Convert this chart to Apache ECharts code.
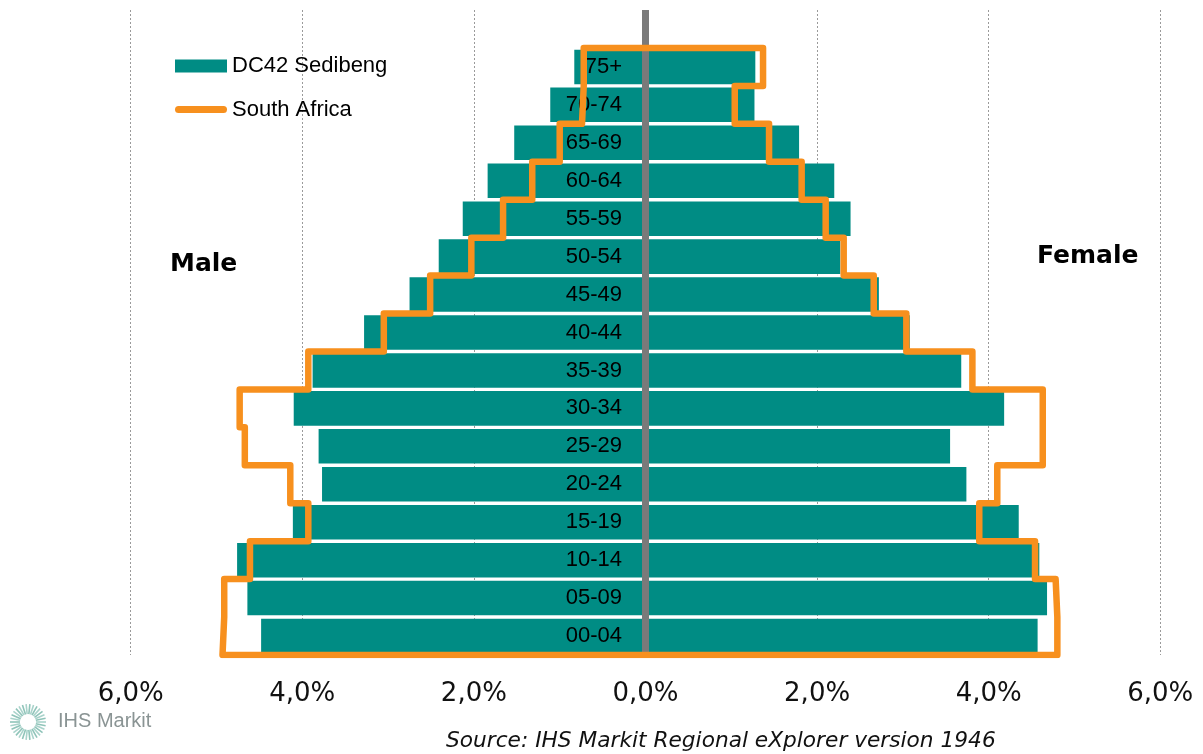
<!DOCTYPE html>
<html>
<head>
<meta charset="utf-8">
<script src="https://cdn.jsdelivr.net/npm/echarts@6/dist/echarts.min.js"></script>
<style>
html,body{margin:0;padding:0;background:#fff;}
#chart{width:1203px;height:754px;}
</style>
</head>
<body>
<div id="chart"></div>
<script>
// Age groups, bottom to top
const ageGroups = ['00-04','05-09','10-14','15-19','20-24','25-29','30-34','35-39','40-44','45-49','50-54','55-59','60-64','65-69','70-74','75+'];
// DC42 Sedibeng (% of population)
const sedibengMale   = [4.48,4.64,4.76,4.11,3.77,3.81,4.10,3.88,3.28,2.75,2.41,2.13,1.84,1.53,1.11,0.83];
const sedibengFemale = [4.57,4.68,4.59,4.35,3.74,3.55,4.18,3.68,3.08,2.72,2.27,2.39,2.20,1.79,1.27,1.28];
// South Africa (% of population)
const saMale   = [4.93,4.91,4.61,3.93,4.14,4.67,4.73,3.93,3.05,2.51,2.03,1.66,1.32,1.00,0.74,0.72];
const saFemale = [4.80,4.78,4.54,3.89,4.10,4.63,4.63,3.81,3.04,2.66,2.31,2.10,1.82,1.44,1.04,1.37];
// x-axis ticks
const xTicks = [-6,-4,-2,0,2,4,6];

const TEAL = '#008C84';
const ORANGE = '#F7901E';

// outline points (band index used as y on a hidden value axis)
const n = ageGroups.length;
const outline = [];
outline.push([-saMale[n-1], n]);
for (let i = n-1; i >= 0; i--) { outline.push([-saMale[i], i+1]); outline.push([-saMale[i], i]); }
for (let i = 0; i < n; i++) { outline.push([saFemale[i], i]); outline.push([saFemale[i], i+1]); }
outline.push([-saMale[n-1], n]);

// logo rays
const rays = [];
for (let k = 0; k < 30; k++) {
  const a = k / 30 * Math.PI * 2;
  rays.push({type:'line', shape:{x1:28+Math.cos(a)*8, y1:722+Math.sin(a)*8, x2:28+Math.cos(a)*18, y2:722+Math.sin(a)*18},
    style:{stroke: k%2 ? '#8fc4b9' : '#a9d3cb', lineWidth:1.6}});
}

const gridLeft = 130.7, gridRight = 42.7;
const plotW = 1203 - gridLeft - gridRight;
const zeroX = gridLeft + plotW / 2;

const chart = echarts.init(document.getElementById('chart'), null, {renderer:'canvas'});
chart.setOption({
  animation:false,
  backgroundColor:'#fff',
  grid:{left:gridLeft, right:gridRight, top:10, bottom:99, containLabel:false},
  legend:{
    orient:'vertical', left:170, top:50, itemGap:21.5, itemWidth:52, itemHeight:13,
    textStyle:{fontFamily:'Liberation Sans, Arial', fontSize:22, color:'#000'},
    data:[
      {name:'DC42 Sedibeng', icon:'rect'},
      {name:'South Africa', icon:'path://M3.5,0 L48.5,0 A3.5,3.5 0 0 1 48.5,7 L3.5,7 A3.5,3.5 0 0 1 3.5,0 Z',
       itemStyle:{color:ORANGE, borderWidth:0}, lineStyle:{width:0}}
    ]
  },
  xAxis:{
    type:'value', min:-6, max:6, interval:2,
    axisLine:{show:false, onZero:false}, axisTick:{show:false},
    axisLabel:{margin:26, fontFamily:'DejaVu Sans', fontSize:26, color:'#111',
      formatter:v => Math.abs(v).toFixed(1).replace('.',',') + '%'},
    splitLine:{show:true, lineStyle:{color:'#9a9a9a', type:[2,2], width:1}}
  },
  yAxis:[{
    type:'category', data:ageGroups.concat(['']), z:5,
    axisLine:{show:true, onZero:true, lineStyle:{color:'#7a7a7a', width:7, cap:'butt'}},
    axisTick:{show:false},
    axisLabel:{margin:-(zeroX - 23.5 - gridLeft), align:'right', fontFamily:'"Liberation Sans", Arial', fontSize:22, color:'#000'},
    splitLine:{show:false}
  },{
    type:'value', min:0, max:n+1, show:false, splitLine:{show:false}
  }],
  series:[{
    name:'DC42 Sedibeng', type:'bar', yAxisIndex:0, barGap:'-100%', barCategoryGap:'9%',
    itemStyle:{color:TEAL}, data:sedibengMale.map(v=>-v)
  },{
    name:'DC42 Sedibeng', type:'bar', yAxisIndex:0, barGap:'-100%', barCategoryGap:'9%',
    itemStyle:{color:TEAL}, data:sedibengFemale
  },{
    name:'South Africa', type:'line', yAxisIndex:1, z:10, symbol:'none',
    lineStyle:{color:ORANGE, width:6.5, join:'round', cap:'round'},
    itemStyle:{color:ORANGE}, data:outline
  }],
  graphic:[
    {type:'text', left:170, top:252, style:{text:'Male', font:'bold 25px "DejaVu Sans"', fill:'#000'}},
    {type:'text', left:1037, top:244, style:{text:'Female', font:'bold 25px "DejaVu Sans"', fill:'#000'}},
    {type:'text', left:446, top:730, style:{text:'Source: IHS Markit Regional eXplorer version 1946', font:'italic 21.7px "DejaVu Sans"', fill:'#111'}},
    {type:'group', children:rays.concat([
      {type:'text', left:58, top:711, style:{text:'IHS Markit', font:'20px "Liberation Sans"', fill:'#8a9494'}}
    ])}
  ]
});
</script>
</body>
</html>
